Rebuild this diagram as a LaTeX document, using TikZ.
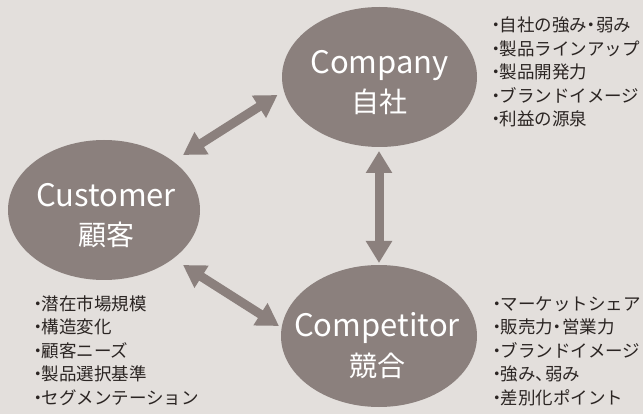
\documentclass[tikz,border=0pt]{standalone}
\usepackage{fontspec}
\setmainfont{Noto Sans CJK JP}
\usetikzlibrary{shapes.geometric,arrows.meta}
\definecolor{bg}{HTML}{E3DFDC}
\definecolor{ellc}{HTML}{8B807D}
\definecolor{txt}{HTML}{2B2523}
\newcommand{\leaddot}{\kern-0.15em・\kern-0.3em}
\newcommand{\middot}{\kern-0.25em・\kern-0.25em}
\tikzset{
  ell/.style={ellipse, fill=ellc, inner sep=0pt},
  title/.style={text=white, font=\fontsize{31}{31}\selectfont, inner sep=0pt, anchor=base},
  jtitle/.style={text=white, font=\fontsize{28}{28}\selectfont, inner sep=0pt, anchor=base},
  item/.style={text=txt, font=\fontsize{17.5}{17.5}\selectfont, inner sep=0pt, anchor=base west},
  dbl/.style={draw=ellc, line width=9pt, {Triangle[length=22pt,width=25pt]}-{Triangle[length=22pt,width=25pt]}}
}
\begin{document}
\begin{tikzpicture}[x=1pt,y=-1pt]
\fill[bg] (0,0) rectangle (643,414);
\useasboundingbox (0,0) rectangle (643,414);
% ellipses
\node[ell, minimum width=195pt, minimum height=140pt] (company) at (379.5,77) {};
\node[ell, minimum width=192pt, minimum height=140pt] (customer) at (104,210) {};
\node[ell, minimum width=196pt, minimum height=142pt] (competitor) at (379,336) {};
% titles
\node[title] (companyT) at (379.5,74) {Company};
\node[jtitle] (companyJ) at (379.5,113) {自社};
\node[title] (customerT) at (106,207) {Customer};
\node[jtitle] (customerJ) at (106,246) {顧客};
\node[title] (competitorT) at (377,337) {Competitor};
\node[jtitle] (competitorJ) at (377,376) {競合};
% arrow tips
\coordinate (v1) at (379,151);
\coordinate (v2) at (379,263);
\coordinate (u1) at (183,155);
\coordinate (u2) at (277.5,95);
\coordinate (l1) at (183,265);
\coordinate (l2) at (279,326);
\draw[dbl] (v1) -- (v2);
\draw[dbl] (u1) -- (u2);
\draw[dbl] (l1) -- (l2);
% lists
\foreach \t [count=\i from 0] in {自社の強み\middot 弱み,製品ラインアップ,製品開発力,ブランドイメージ,利益の源泉}
  \node[item] (tr\i) at (490,32+23.4*\i) {\leaddot\t};
\foreach \t [count=\i from 0] in {潜在市場規模,構造変化,顧客ニーズ,製品選択基準,セグメンテーション}
  \node[item] (bl\i) at (32,310.5+23.4*\i) {\leaddot\t};
\foreach \t [count=\i from 0] in {マーケットシェア,販売力\middot 営業力,ブランドイメージ,強み、\kern-0.45em 弱み,差別化ポイント}
  \node[item] (br\i) at (491,310.5+23.4*\i) {\leaddot\t};
\end{tikzpicture}
\end{document}
